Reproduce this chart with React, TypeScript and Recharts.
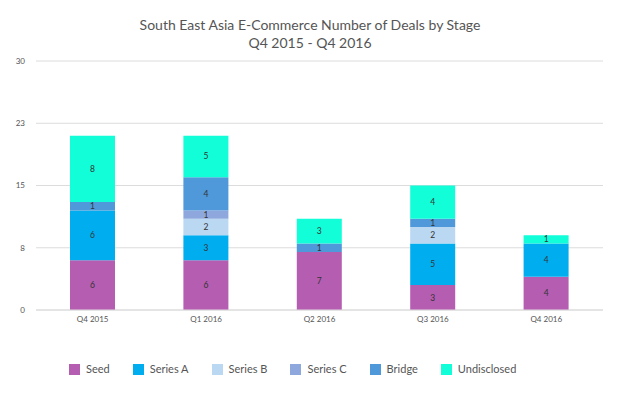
import React from "react";
import { BarChart, Bar, XAxis, YAxis, CartesianGrid, LabelList } from "recharts";

// Chart data
const quarters = ["Q4 2015", "Q1 2016", "Q2 2016", "Q3 2016", "Q4 2016"];
const seed = [6, 6, 7, 3, 4];
const seriesA = [6, 3, 0, 5, 4];
const seriesB = [0, 2, 0, 2, 0];
const seriesC = [0, 1, 0, 0, 0];
const bridge = [1, 4, 1, 1, 0];
const undisclosed = [8, 5, 3, 4, 1];
const yTicks = [0, 7.5, 15, 22.5, 30];

const series = [
  { key: "Seed", values: seed, color: "#b55db1" },
  { key: "Series A", values: seriesA, color: "#00aef0" },
  { key: "Series B", values: seriesB, color: "#bad8f2" },
  { key: "Series C", values: seriesC, color: "#8ea8dd" },
  { key: "Bridge", values: bridge, color: "#4f98d9" },
  { key: "Undisclosed", values: undisclosed, color: "#11fed8" }
];

const data = quarters.map((q, i) => {
  const row: any = { name: q };
  series.forEach((s) => {
    row[s.key] = s.values[i] || null;
  });
  return row;
});

const FONT = "Lato, 'Open Sans', sans-serif";

// legend drawn outside the chart so it doesn't eat plot height
const LegendRow = () => (
  <div
    style={{
      position: "absolute",
      top: 361,
      left: 69,
      display: "flex",
      fontFamily: FONT,
      fontSize: 11,
      lineHeight: "16px",
      color: "#555"
    }}
  >
    {series.map((s) => (
      <div key={s.key} style={{ display: "flex", alignItems: "center", marginRight: 23 }}>
        <span style={{ width: 11, height: 11, background: s.color, display: "inline-block", marginRight: 6 }} />
        <span>{s.key}</span>
      </div>
    ))}
  </div>
);

export default function App() {
  return (
    <div style={{ position: "absolute", left: 0, top: 0, width: 620, height: 393, background: "#fff" }}>
      <div
        style={{
          position: "absolute",
          top: 16,
          width: 620,
          textAlign: "center",
          fontFamily: FONT,
          fontSize: 14,
          lineHeight: "18px",
          color: "#555"
        }}
      >
        South East Asia E-Commerce Number of Deals by Stage
        <br />
        Q4 2015 - Q4 2016
      </div>
      <BarChart
        width={620}
        height={393}
        data={data}
        margin={{ top: 61, right: 17, left: 0, bottom: 53 }}
        barSize={45}
      >
        <CartesianGrid vertical={false} stroke="#dcdcdc" />
        <XAxis
          dataKey="name"
          height={30}
          axisLine={{ stroke: "#dcdcdc" }}
          tickLine={false}
          tickSize={0}
          tickMargin={6}
          tick={{ fontSize: 8, fill: "#555", fontFamily: FONT }}
        />
        <YAxis
          width={36}
          domain={[0, 30]}
          ticks={yTicks}
          tickFormatter={(v: number) => String(Math.round(v))}
          axisLine={false}
          tickLine={false}
          tickSize={0}
          tickMargin={11}
          tick={{ fontSize: 8, fill: "#555", fontFamily: FONT }}
        />
        {series.map((s) => (
          <Bar key={s.key} dataKey={s.key} stackId="a" fill={s.color} isAnimationActive={false}>
            <LabelList dataKey={s.key} position="center" fill="#333" fontSize={8.5} fontFamily={FONT} />
          </Bar>
        ))}
      </BarChart>
      <LegendRow />
    </div>
  );
}
